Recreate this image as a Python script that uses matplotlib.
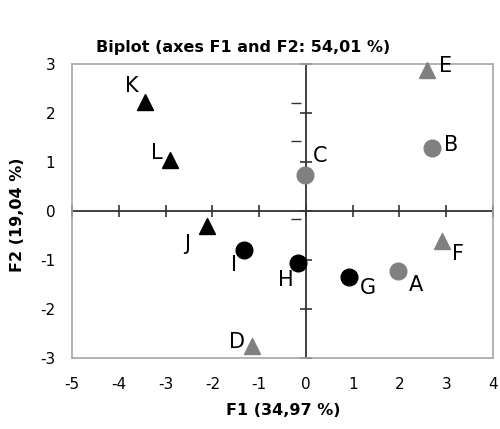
import numpy as np
from matplotlib import pyplot as plt

plt.rcParams['axes.unicode_minus'] = False

# observations on the first two factors
names = ['A', 'B', 'C', 'D', 'E', 'F', 'G', 'H', 'I', 'J', 'K', 'L']
f1 = [1.97, 2.69, -0.02, -1.15, 2.59, 2.90, 0.92, -0.17, -1.33, -2.12, -3.45, -2.90]
f2 = [-1.22, 1.29, 0.73, -2.76, 2.88, -0.62, -1.35, -1.07, -0.80, -0.31, 2.23, 1.04]
groups = ['gc', 'gc', 'gc', 'gt', 'gt', 'gt', 'kc', 'kc', 'kc', 'kt', 'kt', 'kt']

# label offsets in points
offsets = {'A': (13, -10), 'B': (14, 2), 'C': (11, 14), 'D': (-11, 3),
           'E': (13, 3), 'F': (12, -9), 'G': (14, -8), 'H': (-9, -12),
           'I': (-7, -11), 'J': (-14, -13), 'K': (-9, 11), 'L': (-10, 5)}

x_ticks = np.arange(-5, 5)
y_ticks = np.arange(-3, 4)
y_extra = [2.2, 1.43, -0.16]   # stray short marks left of the F2 axis

c_gray = '#808080'
c_frame = '#a6a6a6'
c_axis = '#333333'
style = {'gc': (c_gray, 'o'), 'gt': (c_gray, '^'),
         'kc': ('black', 'o'), 'kt': ('black', '^')}

fig = plt.figure(figsize=(5, 4.29), dpi=100)
ax = fig.add_axes([0.144, 0.1655, 0.842, 0.6855])
ax.set_xlim(-5, 4)
ax.set_ylim(-3, 3)

for s in ax.spines.values():
    s.set_color(c_frame)
    s.set_linewidth(1.2)

ax.set_xticks(x_ticks)
ax.set_yticks(y_ticks)
ax.tick_params(length=0, labelsize=11, pad=14)
ax.tick_params(axis='y', pad=12)

# zero axes with crossing ticks
ax.axhline(0, color=c_axis, lw=1.3, zorder=1)
ax.axvline(0, color=c_axis, lw=1.3, zorder=1)
ax.plot(x_ticks, np.zeros_like(x_ticks), '|', color=c_axis, ms=8, mew=1.2,
        clip_on=False, zorder=1)
ax.plot(np.zeros_like(y_ticks), y_ticks, '_', color=c_axis, ms=8, mew=1.2,
        clip_on=False, zorder=1)
ax.plot(np.full(len(y_extra), -0.1), y_extra, marker=0, ls='none',
        color=c_axis, ms=7, mew=1.0, zorder=1)

for x, y, n, g in zip(f1, f2, names, groups):
    c, m = style[g]
    ax.plot(x, y, m, color=c, ms=12, mec=c, zorder=3, clip_on=False)
    ax.annotate(n, (x, y), xytext=offsets[n], textcoords='offset points',
                ha='center', va='center', fontsize=15, zorder=4)

fig.text(0.486, 0.89, 'Biplot (axes F1 and F2: 54,01 %)', ha='center',
         va='center', fontsize=11.5, fontweight='bold')
fig.text(0.566, 0.044, 'F1 (34,97 %)', ha='center', va='center',
         fontsize=11.5, fontweight='bold')
fig.text(0.036, 0.5, 'F2 (19,04 %)', ha='center', va='center',
         fontsize=11.5, fontweight='bold', rotation=90)

fig.savefig('out.png', dpi=100)
